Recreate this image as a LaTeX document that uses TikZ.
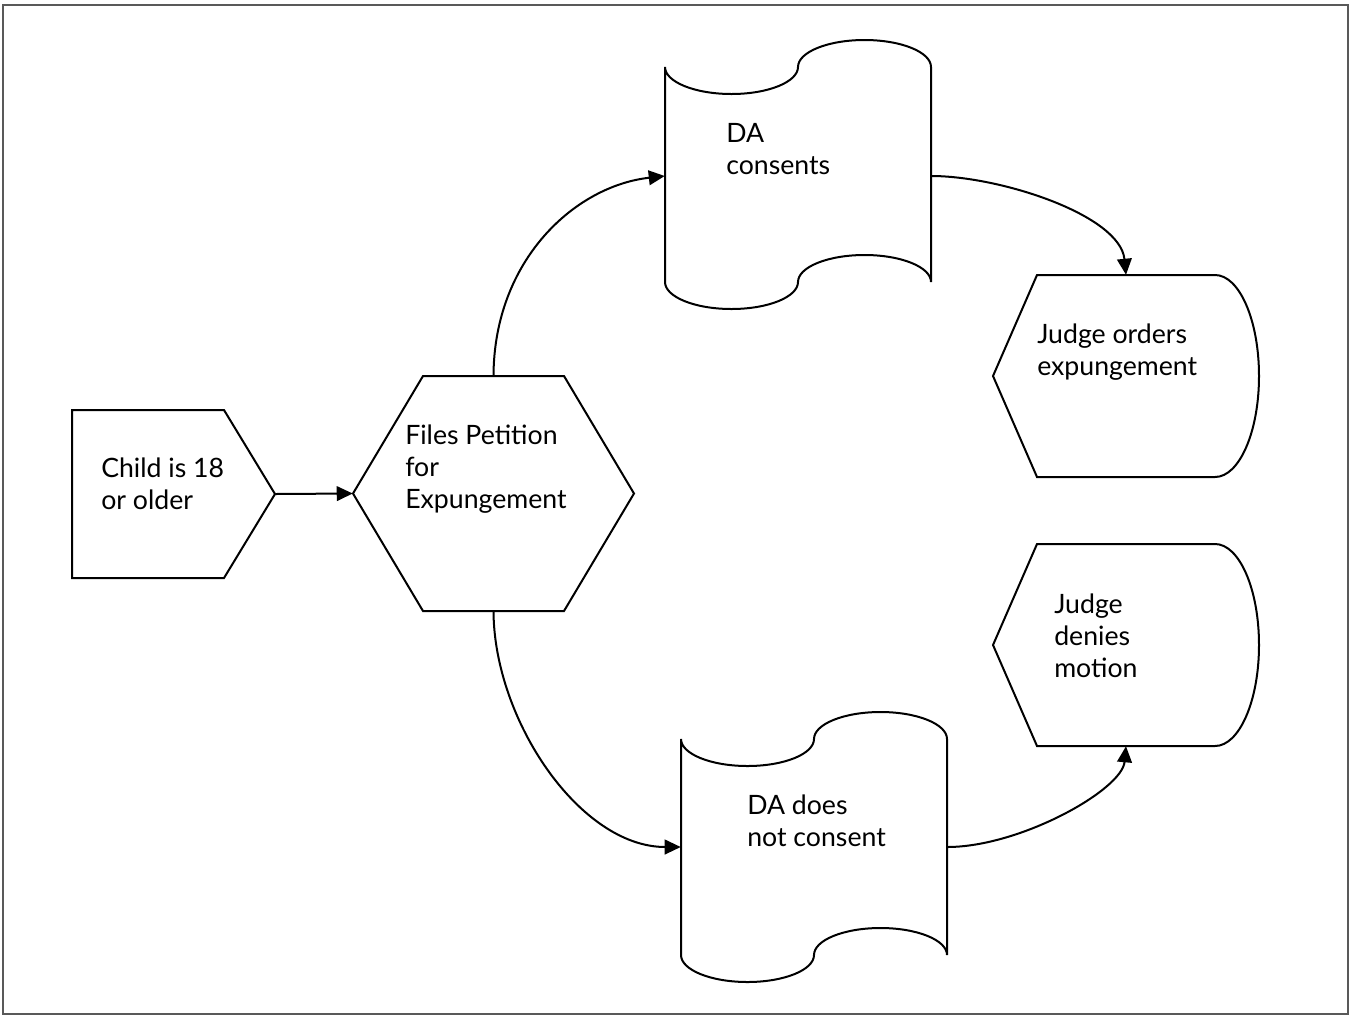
\documentclass[tikz,border=0pt]{standalone}
\usepackage{fontspec}
\setmainfont{Lato}
\usetikzlibrary{arrows.meta,fit}

% outline of a punched tape: left x, top mid y, bottom mid y
\newcommand{\tapeoutline}[3]{%
  \draw[outline] (#1,#2)
    .. controls +(0,14.9) and +(-36.7,0) .. (#1+66.5,#2+27)
    .. controls +(36.7,0) and +(0,14.9) .. (#1+133,#2)
    .. controls +(0,-14.9) and +(-36.7,0) .. (#1+199.5,#2-27)
    .. controls +(36.7,0) and +(0,-14.9) .. (#1+266,#2)
    -- (#1+266,#3)
    .. controls +(0,-14.9) and +(36.7,0) .. (#1+199.5,#3-27)
    .. controls +(-36.7,0) and +(0,-14.9) .. (#1+133,#3)
    .. controls +(0,14.9) and +(36.7,0) .. (#1+66.5,#3+27)
    .. controls +(-36.7,0) and +(0,14.9) .. (#1,#3)
    -- cycle;}
% outline of a display: left x, top y, bottom y
\newcommand{\dispoutline}[3]{%
  \draw[outline] (#1,{(#2+#3)/2}) -- (#1+44,#2) -- (#1+222,#2)
    .. controls +(24.3,0) and +(0,-55.8) .. (#1+266,{(#2+#3)/2})
    .. controls +(0,55.8) and +(24.3,0) .. (#1+222,#3)
    -- (#1+44,#3) -- cycle;}

\tikzset{
  outline/.style={line width=1.5pt, line join=miter},
  area/.style={inner sep=0pt, draw=none},
  txt/.style={anchor=base west, inner sep=0pt, align=left,
    font=\fontsize{20}{24}\selectfont},
  flow/.style={line width=1.5pt, -{Triangle[length=12pt, width=11pt]}}
}

\begin{document}
\begin{tikzpicture}[x=0.75pt, y=-0.75pt]
  \useasboundingbox (0,0) rectangle (1349,1015);
  \draw[gray!70!black, line width=1.2pt] (3,5) rectangle (1348,1014);

  % outlines
  \draw[outline] (72,410) -- (224,410) -- (275,494) -- (224,578) -- (72,578) -- cycle;
  \draw[outline] (353,493.5) -- (423,376) -- (564,376) -- (634,493.5)
    -- (564,611) -- (423,611) -- cycle;
  \tapeoutline{665}{67}{282}
  \tapeoutline{681}{739}{955}
  \dispoutline{993}{275}{477}
  \dispoutline{993}{544}{746}

  % areas for the connectors
  \node[area, fit={(72,410) (275,578)}] (child) {};
  \node[area, fit={(353,376) (634,611)}] (petition) {};
  \node[area, fit={(665,43) (931,309)}] (consent) {};
  \node[area, fit={(681,713) (947,981)}] (noconsent) {};
  \node[area, fit={(993,275) (1259,477)}] (orders) {};
  \node[area, fit={(993,544) (1259,746)}] (denies) {};

  % texts (placed at the base line of their last line)
  \node[txt] (child-t) at (101,509) {Child is 18\\or older};
  \node[txt] (petition-t) at (405,508) {Files Petition\\for\\Expungement};
  \node[txt] (consent-t) at (726,174) {DA\\consents};
  \node[txt] (noconsent-t) at (747,846) {DA does\\not consent};
  \node[txt] (orders-t) at (1037,375) {Judge orders\\expungement};
  \node[txt] (denies-t) at (1054,677) {Judge\\denies\\motion};

  % connectors
  \draw[flow] (child.east) -- (petition.west);
  \draw[flow] (petition.north) .. controls (494,260) and (575,186) .. (consent.west);
  \draw[flow] (consent.east) .. controls (1000,176) and (1120,215) .. (orders.north);
  \draw[flow] (petition.south) .. controls (494,720) and (580,847) .. (noconsent.west);
  \draw[flow] (noconsent.east) .. controls (1020,847) and (1122,790) .. (denies.south);
\end{tikzpicture}
\end{document}
